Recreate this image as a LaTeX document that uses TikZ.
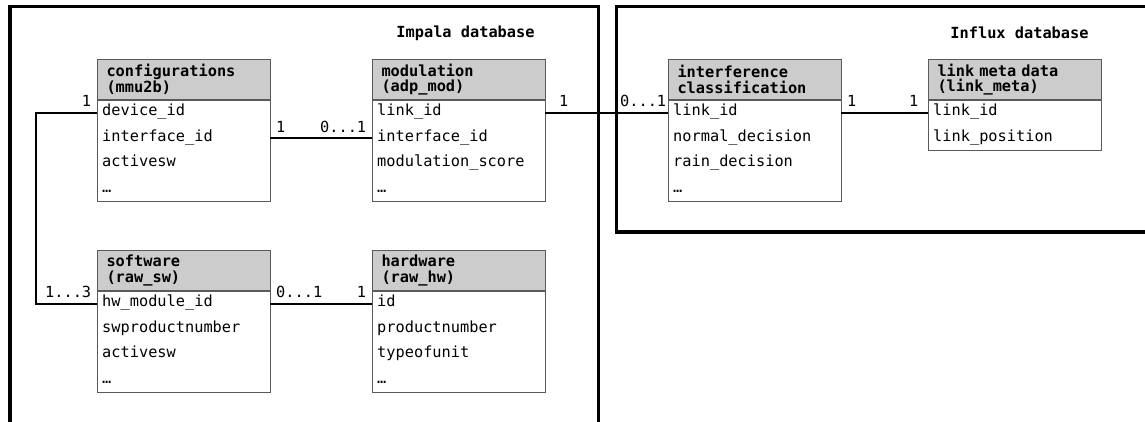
\documentclass[tikz,border=0pt]{standalone}
\usepackage{fontspec}
\setmonofont{DejaVu Sans Mono}
\definecolor{headgray}{RGB}{204,204,204}
\definecolor{boxgray}{RGB}{90,90,90}
\newcommand{\tabfont}{\fontsize{15.3}{15.5}\selectfont\ttfamily}

\begin{document}
\begin{tikzpicture}[x=1pt, y=-1pt,
    head/.style={draw=boxgray, line width=1pt, fill=headgray, anchor=north west, minimum height=40pt, text width=155pt, inner xsep=9pt, inner ysep=0pt, font=\tabfont\bfseries},
    row/.style={anchor=north west, minimum height=25pt, text width=163pt, inner xsep=5pt, inner ysep=0pt, text height=10.5pt, text depth=4pt, align=left, font=\tabfont},
    box/.style={draw=boxgray, line width=1pt},
    link/.style={line width=1.6pt},
    card/.style={inner sep=5pt, font=\tabfont},
    title/.style={font=\tabfont\bfseries},
    frame/.style={line width=3.5pt}]
    \useasboundingbox (0,0) rectangle (1145,421);

    % Databases
    \draw[frame] (10,425) -- (10,6.5) -- (598.5,6.5) -- (598.5,425);
    \draw[frame] (1150,6.5) -- (616.5,6.5) -- (616.5,232) -- (1150,232);
    \node[title] (impala) at (465.5,33) {Impala database};
    \node[title] (influx) at (1019.5,33) {Influx database};

    % Impala tables
    \node[head] (confh) at (97,59) {configurations\\(mmu2b)};
    \node[row] (conf1) at (confh.south west) {device\_id};
    \node[row] (conf2) at (conf1.south west) {interface\_id};
    \node[row] (conf3) at (conf2.south west) {activesw};
    \node[row] (conf4) at (conf3.south west) {\textellipsis};
    \draw[box] (conf1.north west) rectangle (conf4.south east);

    \node[head] (modh) at (372,59) {modulation\\(adp\_mod)};
    \node[row] (mod1) at (modh.south west) {link\_id};
    \node[row] (mod2) at (mod1.south west) {interface\_id};
    \node[row] (mod3) at (mod2.south west) {modulation\_score};
    \node[row] (mod4) at (mod3.south west) {\textellipsis};
    \draw[box] (mod1.north west) rectangle (mod4.south east);

    \node[head] (swh) at (97,250) {software\\(raw\_sw)};
    \node[row] (sw1) at (swh.south west) {hw\_module\_id};
    \node[row] (sw2) at (sw1.south west) {swproductnumber};
    \node[row] (sw3) at (sw2.south west) {activesw};
    \node[row] (sw4) at (sw3.south west) {\textellipsis};
    \draw[box] (sw1.north west) rectangle (sw4.south east);

    \node[head] (hwh) at (372,250) {hardware\\(raw\_hw)};
    \node[row] (hw1) at (hwh.south west) {id};
    \node[row] (hw2) at (hw1.south west) {productnumber};
    \node[row] (hw3) at (hw2.south west) {typeofunit};
    \node[row] (hw4) at (hw3.south west) {\textellipsis};
    \draw[box] (hw1.north west) rectangle (hw4.south east);

    % Influx tables
    \node[head] (inth) at (668,59) {interference\\classification};
    \node[row] (int1) at (inth.south west) {link\_id};
    \node[row] (int2) at (int1.south west) {normal\_decision};
    \node[row] (int3) at (int2.south west) {rain\_decision};
    \node[row] (int4) at (int3.south west) {\textellipsis};
    \draw[box] (int1.north west) rectangle (int4.south east);

    \node[head] (metah) at (928,59) {link meta data\\(link\_meta)};
    \node[row] (meta1) at (metah.south west) {link\_id};
    \node[row] (meta2) at (meta1.south west) {link\_position};
    \draw[box] (meta1.north west) rectangle (meta2.south east);

    % Relations
    \draw[link] (conf1.west) node[card, anchor=south east] {1} -- ++(-61,0) |- (sw1.west) node[card, anchor=south east] {1...3};
    \draw[link] (conf2.east) node[card, anchor=south west] {1} -- (mod2.west) node[card, anchor=south east] {0...1};
    \draw[link] (mod1.east) node[card, anchor=south west, xshift=8pt] {1} -- (int1.west) node[card, anchor=south east, xshift=4pt] {0...1};
    \draw[link] (int1.east) node[card, anchor=south west] {1} -- (meta1.west) node[card, anchor=south east, xshift=-4pt] {1};
    \draw[link] (sw1.east) node[card, anchor=south west] {0...1} -- (hw1.west) node[card, anchor=south east] {1};
\end{tikzpicture}
\end{document}
